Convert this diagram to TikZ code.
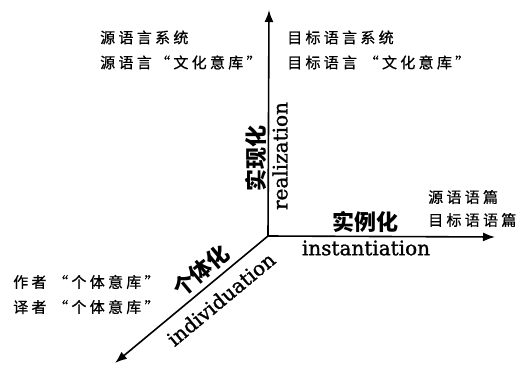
\documentclass[tikz,border=0pt]{standalone}
\usepackage{fontspec}
\setmainfont[FakeBold=1.2]{DejaVu Serif}
\newfontfamily\cjk{Noto Sans CJK SC}
\newfontfamily\cjks[LetterSpace=22,FakeBold=0.8]{Noto Sans CJK SC}
\usetikzlibrary{arrows.meta}
\begin{document}
\begin{tikzpicture}[x=1pt,y=-1pt,
  axis/.style={line width=1.6pt,-{Latex[length=12pt,width=9pt]}},
  small/.style={font=\cjks\fontsize{15}{25}\selectfont,inner sep=0pt,align=left,anchor=west},
  big/.style={font=\cjk\bfseries\fontsize{22}{22}\selectfont,inner sep=0pt},
  eng/.style={font=\fontsize{20}{20}\selectfont,inner sep=0pt}]
\useasboundingbox (0,0) rectangle (530,367);
\coordinate (O) at (268,236);
\coordinate (T) at (269,10);
\coordinate (R) at (495,237);
\coordinate (D) at (115,363);
\draw[axis] (O) -- (T);
\draw[axis] (O) -- (R);
\draw[axis] (O) -- (D);
\node[small] (tl) at (100,50) {源语言系统\\源语言“文化意库”};
\node[small] (tr) at (287,50) {目标语言系统\\目标语言 “文化意库”};
\node[small,font=\cjks\fontsize{15}{23}\selectfont] (rt) at (428,208.5) {源语语篇\\目标语语篇};
\node[small] (lt) at (13,294.5) {作者 “个体意库”\\译者 “个体意库”};
\node[big] (sl) at (365,222) {实例化};
\node[eng] (inst) at (366,248) {instantiation};
\node[big,rotate=90] (sx) at (256,158) {实现化};
\node[eng,rotate=90] (real) at (280,156) {realization};
\node[big,rotate=39.7] (gt) at (201,271) {个体化};
\node[eng,rotate=39.7] (ind) at (221,299) {individuation};
\end{tikzpicture}
\end{document}
